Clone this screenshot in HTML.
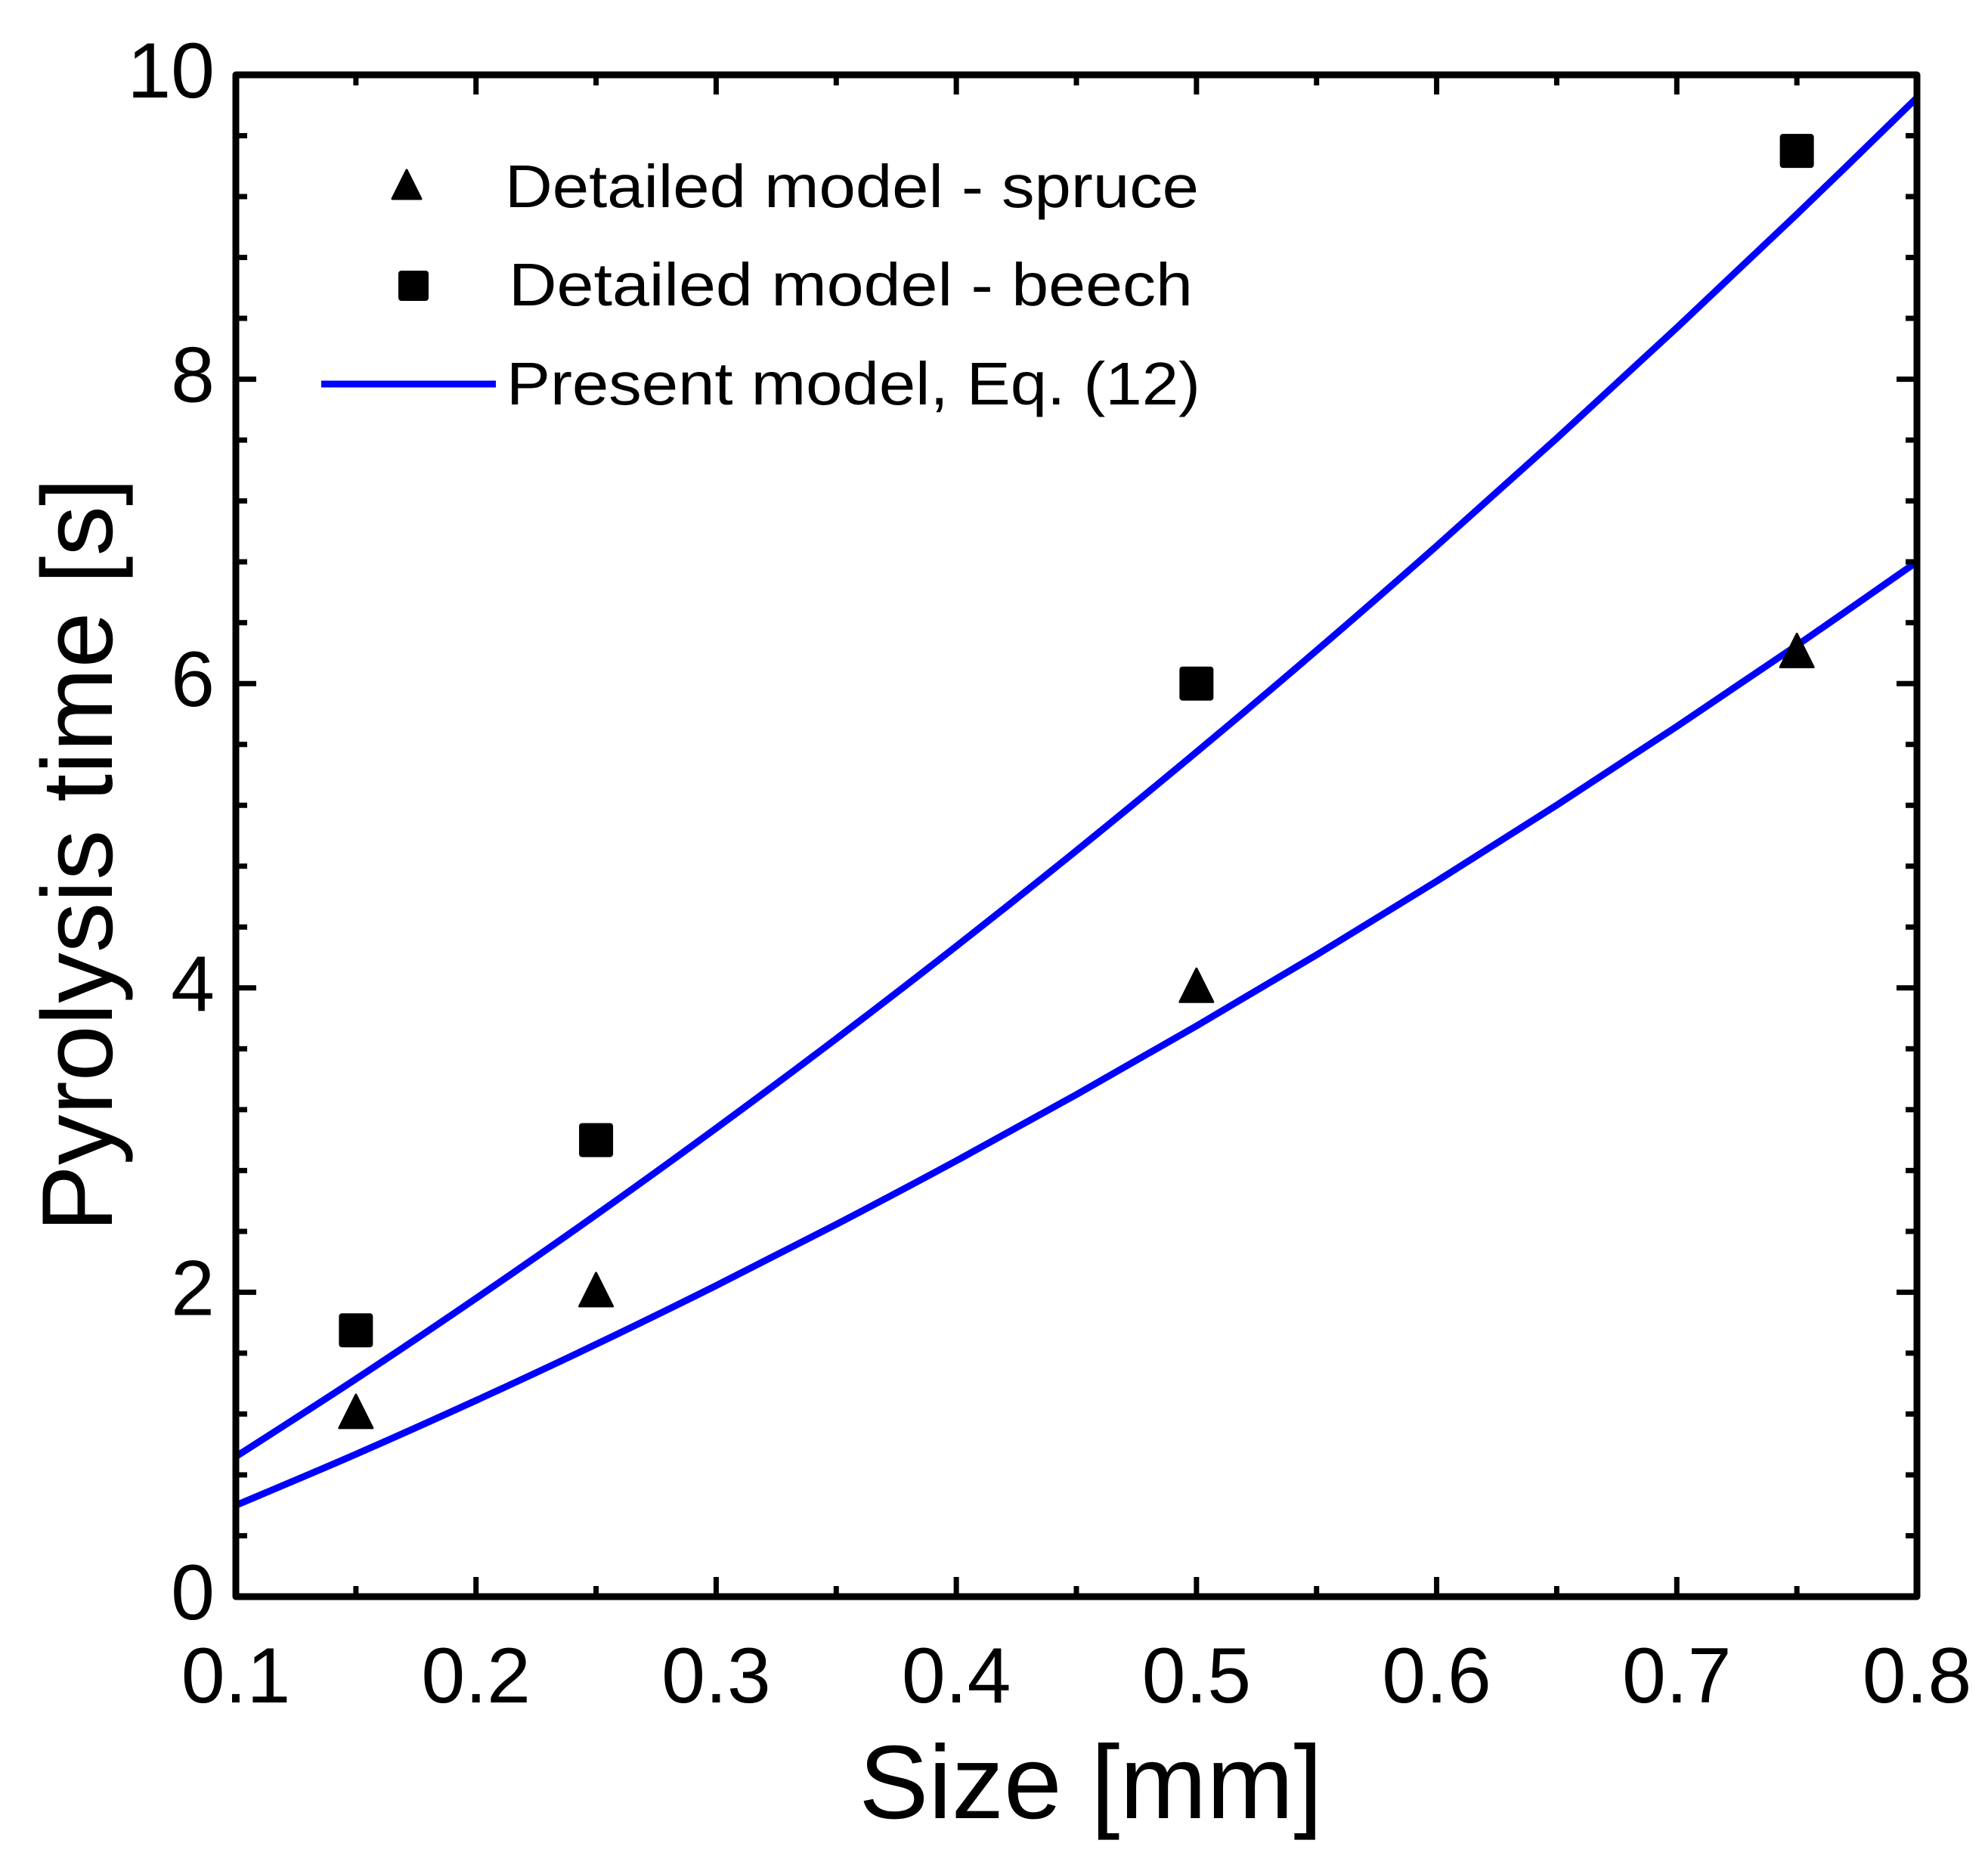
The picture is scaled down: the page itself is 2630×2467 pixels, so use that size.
<!DOCTYPE html>
<html><head><meta charset="utf-8"><style>
html,body{margin:0;padding:0;background:#fff;}
svg text{font-family:"Liberation Sans",sans-serif;fill:#000;}
</style></head><body>
<svg id="chart" width="2630" height="2462" viewBox="0 0 2630 2462" xmlns="http://www.w3.org/2000/svg">
</svg>
<script>
const xCats = [0.15, 0.25, 0.5, 0.75];
const spruce = [1.2, 2.0, 4.0, 6.2];
const beech = [1.75, 3.0, 6.0, 9.5];
const curveX = [0.1,0.15,0.2,0.25,0.3,0.35,0.4,0.45,0.5,0.55,0.6,0.65,0.7,0.75,0.8];
const curveUpper = [0.92,1.430,1.960,2.509,3.078,3.666,4.274,4.902,5.55,6.217,6.904,7.611,8.338,9.084,9.85];
const curveLower = [0.6,0.936,1.289,1.658,2.044,2.446,2.864,3.299,3.75,4.217,4.701,5.201,5.718,6.251,6.8];
const xTicks = ["0.1","0.2","0.3","0.4","0.5","0.6","0.7","0.8"];
const yTicks = ["0","2","4","6","8","10"];

const L=312,R=2536,T=99,B=2112;
const X=v=>L+(v-0.1)/0.7*(R-L);
const Y=v=>B-v/10*(B-T);
const svg=document.getElementById('chart');
const NS='http://www.w3.org/2000/svg';
function mk(tag,attrs,parent){const e=document.createElementNS(NS,tag);for(const k in attrs)e.setAttribute(k,attrs[k]);(parent||svg).appendChild(e);return e;}
function smoothPath(pts){
  let d='M'+pts[0][0]+','+pts[0][1];
  for(let i=0;i<pts.length-1;i++){
    const p0=pts[Math.max(0,i-1)],p1=pts[i],p2=pts[i+1],p3=pts[Math.min(pts.length-1,i+2)];
    const c1x=p1[0]+(p2[0]-p0[0])/6,c1y=p1[1]+(p2[1]-p0[1])/6;
    const c2x=p2[0]-(p3[0]-p1[0])/6,c2y=p2[1]-(p3[1]-p1[1])/6;
    d+=` C${c1x},${c1y} ${c2x},${c2y} ${p2[0]},${p2[1]}`;
  }
  return d;
}

[[curveUpper,'upper'],[curveLower,'lower']].forEach(([arr,nm])=>{
  const pts=curveX.map((x,i)=>[X(x),Y(arr[i])]);
  const p=mk('path',{d:smoothPath(pts),fill:'none',stroke:'#0000ff','stroke-width':9,'stroke-linejoin':'round'});
  
  
});
for(let i=0;i<=14;i++){const v=0.1+i*0.05;const len=i%2===0?26:14;const x=X(v);
  const t1=mk('line',{x1:x,y1:B,x2:x,y2:B-len,stroke:'#000','stroke-width':7});
  
  
  const t2=mk('line',{x1:x,y1:T,x2:x,y2:T+len,stroke:'#000','stroke-width':7});
  
  
}
for(let i=0;i<=25;i++){const v=i*0.4;const len=i%5===0?27:15;const y=Y(v);
  const t1=mk('line',{x1:L,y1:y,x2:L+len,y2:y,stroke:'#000','stroke-width':7});
  
  
  const t2=mk('line',{x1:R,y1:y,x2:R-len,y2:y,stroke:'#000','stroke-width':7});
  
  
}
const fr=mk('rect',{x:L,y:T,width:R-L,height:B-T,fill:'none',stroke:'#000','stroke-width':9,'stroke-linejoin':'round'});


xTicks.forEach(s=>{const t=mk('text',{x:X(parseFloat(s)),y:2252,'text-anchor':'middle','font-size':104});t.textContent=s;
  
  });
yTicks.forEach(s=>{const t=mk('text',{x:284,y:Y(parseFloat(s))+30,'text-anchor':'end','font-size':104});t.textContent=s;
  
  });
function tri(cx,cy,s,name){const h=s;const p=mk('polygon',{points:`${cx},${cy-h*0.58} ${cx-s/2},${cy+h*0.42} ${cx+s/2},${cy+h*0.42}`,fill:'#000',stroke:'#000','stroke-width':3,'stroke-linejoin':'round'});
  
  }
function sq(cx,cy,s,name){const r=mk('rect',{x:cx-s/2,y:cy-s/2,width:s,height:s,rx:4,fill:'#000'});
  
  }
xCats.forEach((x,i)=>{tri(X(x),Y(spruce[i]),44,'spruce-point');sq(X(x),Y(beech[i]),45,'beech-point');});
tri(538,247,38,'legend-triangle');
sq(547,378,40,'legend-square');
const ll=mk('line',{x1:425,y1:508,x2:656,y2:508,stroke:'#0000ff','stroke-width':9});


[['Detailed model - spruce',668,274,'legend-spruce'],['Detailed model - beech',673,404,'legend-beech'],['Present model, Eq. (12)',670,535,'legend-present-model']].forEach(([s,x,y,n])=>{
  const t=mk('text',{x:x,y:y,'font-size':80,textLength:s.length>22?918:905,lengthAdjust:'spacingAndGlyphs'});t.textContent=s;
  
  });
const xt=mk('text',{x:1443,y:2405,'text-anchor':'middle','font-size':138});xt.textContent='Size [mm]';


const yt=mk('text',{x:0,y:0,'text-anchor':'middle','font-size':133,transform:'translate(148,1131) rotate(-90)'});yt.textContent='Pyrolysis time [s]';


</script>
</body></html>
